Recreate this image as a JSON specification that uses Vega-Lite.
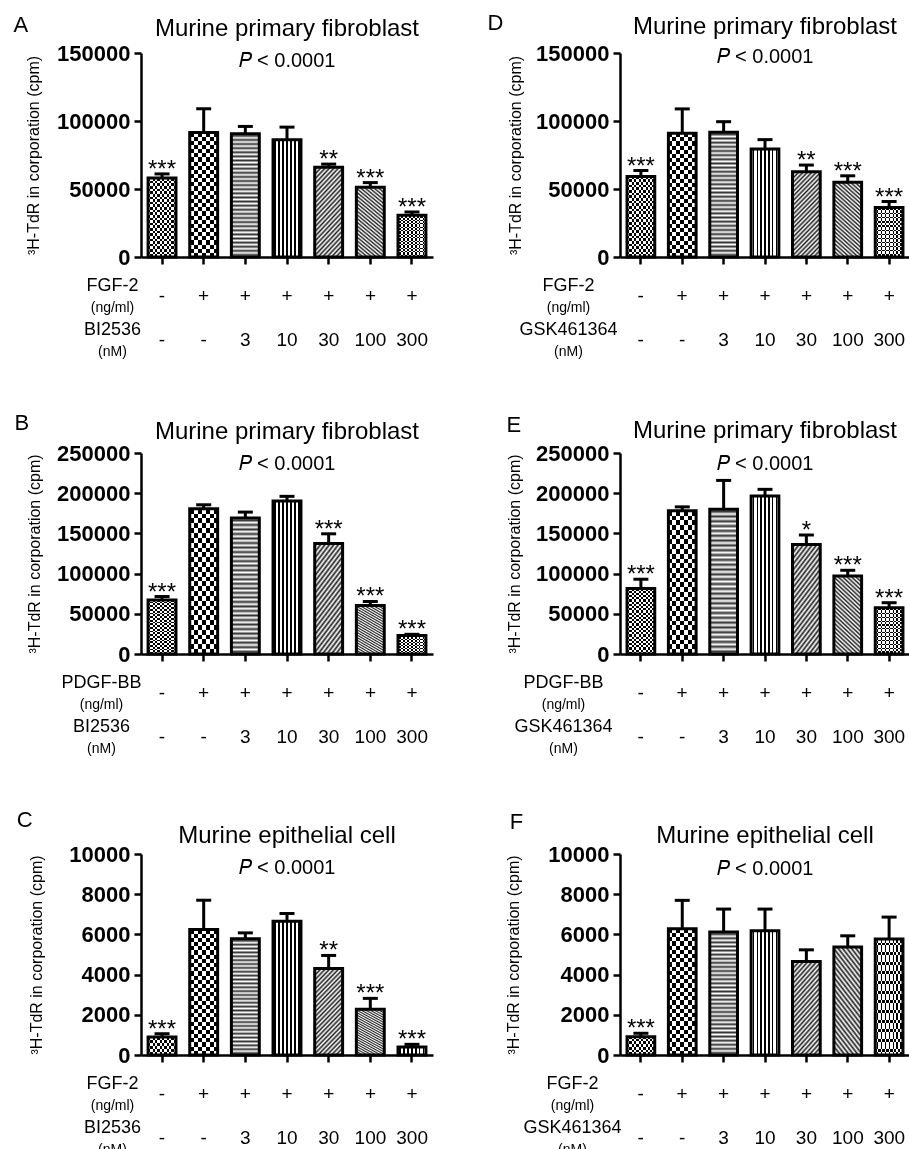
{
"$schema": "https://vega.github.io/schema/vega-lite/v6.json",
"background": "white",
"padding": {"left": 13, "top": 12, "right": 0, "bottom": 0},
"datasets": {
"bars": [
{"panel":"A","group":1,"mean":58000,"hi":61100,"sig":"***"},
{"panel":"A","group":2,"mean":91500,"hi":109000,"sig":""},
{"panel":"A","group":3,"mean":90600,"hi":96000,"sig":""},
{"panel":"A","group":4,"mean":86200,"hi":95500,"sig":""},
{"panel":"A","group":5,"mean":66000,"hi":68300,"sig":"**"},
{"panel":"A","group":6,"mean":51300,"hi":54700,"sig":"***"},
{"panel":"A","group":7,"mean":30700,"hi":33100,"sig":"***"},
{"panel":"B","group":1,"mean":67300,"hi":71500,"sig":"***"},
{"panel":"B","group":2,"mean":180600,"hi":185600,"sig":""},
{"panel":"B","group":3,"mean":169000,"hi":176500,"sig":""},
{"panel":"B","group":4,"mean":190200,"hi":196100,"sig":""},
{"panel":"B","group":5,"mean":137500,"hi":149500,"sig":"***"},
{"panel":"B","group":6,"mean":60300,"hi":65300,"sig":"***"},
{"panel":"B","group":7,"mean":22900,"hi":24500,"sig":"***"},
{"panel":"C","group":1,"mean":894,"hi":1058,"sig":"***"},
{"panel":"C","group":2,"mean":6245,"hi":7700,"sig":""},
{"panel":"C","group":3,"mean":5778,"hi":6076,"sig":""},
{"panel":"C","group":4,"mean":6657,"hi":7040,"sig":""},
{"panel":"C","group":5,"mean":4307,"hi":4953,"sig":"**"},
{"panel":"C","group":6,"mean":2270,"hi":2817,"sig":"***"},
{"panel":"C","group":7,"mean":397,"hi":530,"sig":"***"},
{"panel":"D","group":1,"mean":59200,"hi":63600,"sig":"***"},
{"panel":"D","group":2,"mean":91000,"hi":108900,"sig":""},
{"panel":"D","group":3,"mean":91700,"hi":99500,"sig":""},
{"panel":"D","group":4,"mean":79400,"hi":86300,"sig":""},
{"panel":"D","group":5,"mean":62700,"hi":67600,"sig":"**"},
{"panel":"D","group":6,"mean":54900,"hi":59700,"sig":"***"},
{"panel":"D","group":7,"mean":36400,"hi":40800,"sig":"***"},
{"panel":"E","group":1,"mean":81400,"hi":93000,"sig":"***"},
{"panel":"E","group":2,"mean":178100,"hi":183000,"sig":""},
{"panel":"E","group":3,"mean":180100,"hi":215900,"sig":""},
{"panel":"E","group":4,"mean":196600,"hi":204800,"sig":""},
{"panel":"E","group":5,"mean":136200,"hi":148000,"sig":"*"},
{"panel":"E","group":6,"mean":97100,"hi":104100,"sig":"***"},
{"panel":"E","group":7,"mean":57600,"hi":63800,"sig":"***"},
{"panel":"F","group":1,"mean":914,"hi":1081,"sig":"***"},
{"panel":"F","group":2,"mean":6279,"hi":7694,"sig":""},
{"panel":"F","group":3,"mean":6114,"hi":7260,"sig":""},
{"panel":"F","group":4,"mean":6180,"hi":7260,"sig":""},
{"panel":"F","group":5,"mean":4654,"hi":5232,"sig":""},
{"panel":"F","group":6,"mean":5367,"hi":5930,"sig":""},
{"panel":"F","group":7,"mean":5765,"hi":6861,"sig":""}
],
"table": [
{"group":1,"row":"agent","txt":"-"},{"group":2,"row":"agent","txt":"+"},{"group":3,"row":"agent","txt":"+"},{"group":4,"row":"agent","txt":"+"},{"group":5,"row":"agent","txt":"+"},{"group":6,"row":"agent","txt":"+"},{"group":7,"row":"agent","txt":"+"},
{"group":1,"row":"dose","txt":"-"},{"group":2,"row":"dose","txt":"-"},{"group":3,"row":"dose","txt":"3"},{"group":4,"row":"dose","txt":"10"},{"group":5,"row":"dose","txt":"30"},{"group":6,"row":"dose","txt":"100"},{"group":7,"row":"dose","txt":"300"}
]
},
"columns": 2,
"spacing": {"row": 54, "column": 54},
"concat": [
{
"title": {"text": "A", "anchor": "start", "frame": "bounds", "offset": -20, "dx": -12, "fontSize": 22},
"spacing": 8,
"vconcat": [
{
"width": 292, "height": 204,
"title": {"text": "Murine primary fibroblast", "subtitle": "𝑃 < 0.0001", "anchor": "middle", "frame": "group", "offset": -29, "fontSize": 24, "subtitleFontSize": 20, "subtitlePadding": 10},
"data": {"name": "bars"},
"transform": [{"filter": "datum.panel == 'A'"}],
"encoding": {
"x": {"field": "group", "type": "nominal", "scale": {"paddingInner": 0.33, "paddingOuter": 0.17}, "axis": {"labels": false, "title": null}},
"y": {"field": "mean", "type": "quantitative", "stack": null, "scale": {"domain": [0, 150000], "nice": false}, "axis": {"title": "³H-TdR in corporation (cpm)", "values": [0, 50000, 100000, 150000], "format": "d", "titlePadding": 15}}
},
"layer": [
{"transform": [{"filter": "datum.group == 1"}], "mark": {"type": "bar", "style": "g1", "opacity": 1}},
{"transform": [{"filter": "datum.group == 2"}], "mark": {"type": "bar", "style": "g2", "opacity": 1}},
{"transform": [{"filter": "datum.group == 3"}], "mark": {"type": "bar", "style": "g3", "opacity": 1}},
{"transform": [{"filter": "datum.group == 4 || datum.group == 7"}], "mark": {"type": "bar", "style": "g4", "opacity": 1}},
{"transform": [{"filter": "datum.group == 5"}], "mark": {"type": "bar", "style": "g5", "opacity": 1}},
{"transform": [{"filter": "datum.group == 6"}], "mark": {"type": "bar", "style": "g6", "opacity": 1}},
{"transform": [{"filter": "datum.group <= 2"}], "mark": {"type": "bar", "style": "o1", "opacity": 1, "blend": "difference"}},
{"transform": [{"filter": "datum.group == 7"}], "mark": {"type": "bar", "style": "o7", "opacity": 1, "blend": "difference"}},
{"mark": {"type": "bar", "opacity": 1, "fill": "transparent", "stroke": "black", "strokeWidth": 3}},
{"mark": {"type": "rule", "opacity": 1, "color": "black", "strokeWidth": 3}, "encoding": {"y2": {"field": "hi"}}},
{"mark": {"type": "tick", "opacity": 1, "orient": "horizontal", "color": "black", "size": 15, "thickness": 3}, "encoding": {"y": {"field": "hi", "type": "quantitative"}}},
{"mark": {"type": "text", "fontSize": 24, "baseline": "alphabetic", "dy": 3, "color": "black"}, "encoding": {"y": {"field": "hi", "type": "quantitative"}, "text": {"field": "sig"}}}
]
},
{
"width": 292, "height": 66,
"data": {"name": "table"},
"mark": {"type": "text", "fontSize": 19, "color": "black"},
"encoding": {
"x": {"field": "group", "type": "nominal", "scale": {"paddingInner": 0.33, "paddingOuter": 0.17}, "axis": null},
"y": {"field": "row", "type": "nominal", "scale": {"type": "point", "domain": ["n1","agent","u1","gap","n2","dose","u2"], "padding": 0}, "axis": {"title": null, "domain": false, "ticks": false, "labelAlign": "center", "labelBaseline": "middle", "labelPadding": 29, "labelFontWeight": "normal", "labelFontSize": {"condition": {"test": "datum.value == 'u1' || datum.value == 'u2'", "value": 14}, "value": 18}, "labelExpr": "datum.value == 'n1' ? 'FGF-2' : datum.value == 'u1' ? '(ng/ml)' : datum.value == 'n2' ? 'BI2536' : datum.value == 'u2' ? '(nM)' : ''"}},
"text": {"field": "txt"}
}
}
]
},
{
"title": {"text": "D", "anchor": "start", "frame": "bounds", "offset": -20, "dx": -20, "fontSize": 22},
"spacing": 8,
"vconcat": [
{
"width": 290, "height": 204,
"title": {"text": "Murine primary fibroblast", "subtitle": "𝑃 < 0.0001", "anchor": "middle", "frame": "group", "offset": -25, "fontSize": 24, "subtitleFontSize": 20, "subtitlePadding": 8},
"data": {"name": "bars"},
"transform": [{"filter": "datum.panel == 'D'"}],
"encoding": {
"x": {"field": "group", "type": "nominal", "scale": {"paddingInner": 0.33, "paddingOuter": 0.17}, "axis": {"labels": false, "title": null}},
"y": {"field": "mean", "type": "quantitative", "stack": null, "scale": {"domain": [0, 150000], "nice": false}, "axis": {"title": "³H-TdR in corporation (cpm)", "values": [0, 50000, 100000, 150000], "format": "d", "titlePadding": 12}}
},
"layer": [
{"transform": [{"filter": "datum.group == 1"}], "mark": {"type": "bar", "style": "g1", "opacity": 1}},
{"transform": [{"filter": "datum.group == 2"}], "mark": {"type": "bar", "style": "g2", "opacity": 1}},
{"transform": [{"filter": "datum.group == 3"}], "mark": {"type": "bar", "style": "g3", "opacity": 1}},
{"transform": [{"filter": "datum.group == 4 || datum.group == 7"}], "mark": {"type": "bar", "style": "g4", "opacity": 1}},
{"transform": [{"filter": "datum.group == 5"}], "mark": {"type": "bar", "style": "g5", "opacity": 1}},
{"transform": [{"filter": "datum.group == 6"}], "mark": {"type": "bar", "style": "g6", "opacity": 1}},
{"transform": [{"filter": "datum.group <= 2"}], "mark": {"type": "bar", "style": "o1", "opacity": 1, "blend": "difference"}},
{"transform": [{"filter": "datum.group == 7"}], "mark": {"type": "bar", "style": "o7", "opacity": 1, "blend": "difference"}},
{"mark": {"type": "bar", "opacity": 1, "fill": "transparent", "stroke": "black", "strokeWidth": 3}},
{"mark": {"type": "rule", "opacity": 1, "color": "black", "strokeWidth": 3}, "encoding": {"y2": {"field": "hi"}}},
{"mark": {"type": "tick", "opacity": 1, "orient": "horizontal", "color": "black", "size": 15, "thickness": 3}, "encoding": {"y": {"field": "hi", "type": "quantitative"}}},
{"mark": {"type": "text", "fontSize": 24, "baseline": "alphabetic", "dy": 3, "color": "black"}, "encoding": {"y": {"field": "hi", "type": "quantitative"}, "text": {"field": "sig"}}}
]
},
{
"width": 290, "height": 66,
"data": {"name": "table"},
"mark": {"type": "text", "fontSize": 19, "color": "black"},
"encoding": {
"x": {"field": "group", "type": "nominal", "scale": {"paddingInner": 0.33, "paddingOuter": 0.17}, "axis": null},
"y": {"field": "row", "type": "nominal", "scale": {"type": "point", "domain": ["n1","agent","u1","gap","n2","dose","u2"], "padding": 0}, "axis": {"title": null, "domain": false, "ticks": false, "labelAlign": "center", "labelBaseline": "middle", "labelPadding": 52, "labelFontWeight": "normal", "labelFontSize": {"condition": {"test": "datum.value == 'u1' || datum.value == 'u2'", "value": 14}, "value": 18}, "labelExpr": "datum.value == 'n1' ? 'FGF-2' : datum.value == 'u1' ? '(ng/ml)' : datum.value == 'n2' ? 'GSK461364' : datum.value == 'u2' ? '(nM)' : ''"}},
"text": {"field": "txt"}
}
}
]
},
{
"title": {"text": "B", "anchor": "start", "frame": "bounds", "offset": -15, "dx": -12, "fontSize": 22},
"spacing": 8,
"vconcat": [
{
"width": 292, "height": 201,
"title": {"text": "Murine primary fibroblast", "subtitle": "𝑃 < 0.0001", "anchor": "middle", "frame": "group", "offset": -32, "fontSize": 24, "subtitleFontSize": 20, "subtitlePadding": 10},
"data": {"name": "bars"},
"transform": [{"filter": "datum.panel == 'B'"}],
"encoding": {
"x": {"field": "group", "type": "nominal", "scale": {"paddingInner": 0.33, "paddingOuter": 0.17}, "axis": {"labels": false, "title": null}},
"y": {"field": "mean", "type": "quantitative", "stack": null, "scale": {"domain": [0, 250000], "nice": false}, "axis": {"title": "³H-TdR in corporation (cpm)", "values": [0, 50000, 100000, 150000, 200000, 250000], "format": "d", "titlePadding": 14}}
},
"layer": [
{"transform": [{"filter": "datum.group == 1"}], "mark": {"type": "bar", "style": "g1", "opacity": 1}},
{"transform": [{"filter": "datum.group == 2"}], "mark": {"type": "bar", "style": "g2", "opacity": 1}},
{"transform": [{"filter": "datum.group == 3"}], "mark": {"type": "bar", "style": "g3", "opacity": 1}},
{"transform": [{"filter": "datum.group == 4 || datum.group == 7"}], "mark": {"type": "bar", "style": "g4", "opacity": 1}},
{"transform": [{"filter": "datum.group == 5"}], "mark": {"type": "bar", "style": "g5", "opacity": 1}},
{"transform": [{"filter": "datum.group == 6"}], "mark": {"type": "bar", "style": "g6", "opacity": 1}},
{"transform": [{"filter": "datum.group <= 2"}], "mark": {"type": "bar", "style": "o1", "opacity": 1, "blend": "difference"}},
{"transform": [{"filter": "datum.group == 7"}], "mark": {"type": "bar", "style": "o7", "opacity": 1, "blend": "difference"}},
{"mark": {"type": "bar", "opacity": 1, "fill": "transparent", "stroke": "black", "strokeWidth": 3}},
{"mark": {"type": "rule", "opacity": 1, "color": "black", "strokeWidth": 3}, "encoding": {"y2": {"field": "hi"}}},
{"mark": {"type": "tick", "opacity": 1, "orient": "horizontal", "color": "black", "size": 15, "thickness": 3}, "encoding": {"y": {"field": "hi", "type": "quantitative"}}},
{"mark": {"type": "text", "fontSize": 24, "baseline": "alphabetic", "dy": 3, "color": "black"}, "encoding": {"y": {"field": "hi", "type": "quantitative"}, "text": {"field": "sig"}}}
]
},
{
"width": 292, "height": 66,
"data": {"name": "table"},
"mark": {"type": "text", "fontSize": 19, "color": "black"},
"encoding": {
"x": {"field": "group", "type": "nominal", "scale": {"paddingInner": 0.33, "paddingOuter": 0.17}, "axis": null},
"y": {"field": "row", "type": "nominal", "scale": {"type": "point", "domain": ["n1","agent","u1","gap","n2","dose","u2"], "padding": 0}, "axis": {"title": null, "domain": false, "ticks": false, "labelAlign": "center", "labelBaseline": "middle", "labelPadding": 40, "labelFontWeight": "normal", "labelFontSize": {"condition": {"test": "datum.value == 'u1' || datum.value == 'u2'", "value": 14}, "value": 18}, "labelExpr": "datum.value == 'n1' ? 'PDGF-BB' : datum.value == 'u1' ? '(ng/ml)' : datum.value == 'n2' ? 'BI2536' : datum.value == 'u2' ? '(nM)' : ''"}},
"text": {"field": "txt"}
}
}
]
},
{
"title": {"text": "E", "anchor": "start", "frame": "bounds", "offset": -18, "dx": 0, "fontSize": 22},
"spacing": 8,
"vconcat": [
{
"width": 290, "height": 201,
"title": {"text": "Murine primary fibroblast", "subtitle": "𝑃 < 0.0001", "anchor": "middle", "frame": "group", "offset": -32, "fontSize": 24, "subtitleFontSize": 20, "subtitlePadding": 11},
"data": {"name": "bars"},
"transform": [{"filter": "datum.panel == 'E'"}],
"encoding": {
"x": {"field": "group", "type": "nominal", "scale": {"paddingInner": 0.33, "paddingOuter": 0.17}, "axis": {"labels": false, "title": null}},
"y": {"field": "mean", "type": "quantitative", "stack": null, "scale": {"domain": [0, 250000], "nice": false}, "axis": {"title": "³H-TdR in corporation (cpm)", "values": [0, 50000, 100000, 150000, 200000, 250000], "format": "d", "titlePadding": 13}}
},
"layer": [
{"transform": [{"filter": "datum.group == 1"}], "mark": {"type": "bar", "style": "g1", "opacity": 1}},
{"transform": [{"filter": "datum.group == 2"}], "mark": {"type": "bar", "style": "g2", "opacity": 1}},
{"transform": [{"filter": "datum.group == 3"}], "mark": {"type": "bar", "style": "g3", "opacity": 1}},
{"transform": [{"filter": "datum.group == 4 || datum.group == 7"}], "mark": {"type": "bar", "style": "g4", "opacity": 1}},
{"transform": [{"filter": "datum.group == 5"}], "mark": {"type": "bar", "style": "g5", "opacity": 1}},
{"transform": [{"filter": "datum.group == 6"}], "mark": {"type": "bar", "style": "g6", "opacity": 1}},
{"transform": [{"filter": "datum.group <= 2"}], "mark": {"type": "bar", "style": "o1", "opacity": 1, "blend": "difference"}},
{"transform": [{"filter": "datum.group == 7"}], "mark": {"type": "bar", "style": "o7", "opacity": 1, "blend": "difference"}},
{"mark": {"type": "bar", "opacity": 1, "fill": "transparent", "stroke": "black", "strokeWidth": 3}},
{"mark": {"type": "rule", "opacity": 1, "color": "black", "strokeWidth": 3}, "encoding": {"y2": {"field": "hi"}}},
{"mark": {"type": "tick", "opacity": 1, "orient": "horizontal", "color": "black", "size": 15, "thickness": 3}, "encoding": {"y": {"field": "hi", "type": "quantitative"}}},
{"mark": {"type": "text", "fontSize": 24, "baseline": "alphabetic", "dy": 3, "color": "black"}, "encoding": {"y": {"field": "hi", "type": "quantitative"}, "text": {"field": "sig"}}}
]
},
{
"width": 290, "height": 66,
"data": {"name": "table"},
"mark": {"type": "text", "fontSize": 19, "color": "black"},
"encoding": {
"x": {"field": "group", "type": "nominal", "scale": {"paddingInner": 0.33, "paddingOuter": 0.17}, "axis": null},
"y": {"field": "row", "type": "nominal", "scale": {"type": "point", "domain": ["n1","agent","u1","gap","n2","dose","u2"], "padding": 0}, "axis": {"title": null, "domain": false, "ticks": false, "labelAlign": "center", "labelBaseline": "middle", "labelPadding": 57, "labelFontWeight": "normal", "labelFontSize": {"condition": {"test": "datum.value == 'u1' || datum.value == 'u2'", "value": 14}, "value": 18}, "labelExpr": "datum.value == 'n1' ? 'PDGF-BB' : datum.value == 'u1' ? '(ng/ml)' : datum.value == 'n2' ? 'GSK461364' : datum.value == 'u2' ? '(nM)' : ''"}},
"text": {"field": "txt"}
}
}
]
},
{
"title": {"text": "C", "anchor": "start", "frame": "bounds", "offset": -8, "dx": -12, "fontSize": 22},
"spacing": 8,
"vconcat": [
{
"width": 292, "height": 201,
"title": {"text": "Murine epithelial cell", "subtitle": "𝑃 < 0.0001", "anchor": "middle", "frame": "group", "offset": -35, "fontSize": 24, "subtitleFontSize": 20, "subtitlePadding": 10},
"data": {"name": "bars"},
"transform": [{"filter": "datum.panel == 'C'"}],
"encoding": {
"x": {"field": "group", "type": "nominal", "scale": {"paddingInner": 0.33, "paddingOuter": 0.17}, "axis": {"labels": false, "title": null}},
"y": {"field": "mean", "type": "quantitative", "stack": null, "scale": {"domain": [0, 10000], "nice": false}, "axis": {"title": "³H-TdR in corporation (cpm)", "values": [0, 2000, 4000, 6000, 8000, 10000], "format": "d", "titlePadding": 24}}
},
"layer": [
{"transform": [{"filter": "datum.group == 1"}], "mark": {"type": "bar", "style": "g1", "opacity": 1}},
{"transform": [{"filter": "datum.group == 2"}], "mark": {"type": "bar", "style": "g2", "opacity": 1}},
{"transform": [{"filter": "datum.group == 3"}], "mark": {"type": "bar", "style": "g3", "opacity": 1}},
{"transform": [{"filter": "datum.group == 4 || datum.group == 7"}], "mark": {"type": "bar", "style": "g4", "opacity": 1}},
{"transform": [{"filter": "datum.group == 5"}], "mark": {"type": "bar", "style": "g5", "opacity": 1}},
{"transform": [{"filter": "datum.group == 6"}], "mark": {"type": "bar", "style": "g6", "opacity": 1}},
{"transform": [{"filter": "datum.group <= 2"}], "mark": {"type": "bar", "style": "o1", "opacity": 1, "blend": "difference"}},
{"transform": [{"filter": "datum.group == 7"}], "mark": {"type": "bar", "style": "o7", "opacity": 1, "blend": "difference"}},
{"mark": {"type": "bar", "opacity": 1, "fill": "transparent", "stroke": "black", "strokeWidth": 3}},
{"mark": {"type": "rule", "opacity": 1, "color": "black", "strokeWidth": 3}, "encoding": {"y2": {"field": "hi"}}},
{"mark": {"type": "tick", "opacity": 1, "orient": "horizontal", "color": "black", "size": 15, "thickness": 3}, "encoding": {"y": {"field": "hi", "type": "quantitative"}}},
{"mark": {"type": "text", "fontSize": 24, "baseline": "alphabetic", "dy": 3, "color": "black"}, "encoding": {"y": {"field": "hi", "type": "quantitative"}, "text": {"field": "sig"}}}
]
},
{
"width": 292, "height": 66,
"data": {"name": "table"},
"mark": {"type": "text", "fontSize": 19, "color": "black"},
"encoding": {
"x": {"field": "group", "type": "nominal", "scale": {"paddingInner": 0.33, "paddingOuter": 0.17}, "axis": null},
"y": {"field": "row", "type": "nominal", "scale": {"type": "point", "domain": ["n1","agent","u1","gap","n2","dose","u2"], "padding": 0}, "axis": {"title": null, "domain": false, "ticks": false, "labelAlign": "center", "labelBaseline": "middle", "labelPadding": 29, "labelFontWeight": "normal", "labelFontSize": {"condition": {"test": "datum.value == 'u1' || datum.value == 'u2'", "value": 14}, "value": 18}, "labelExpr": "datum.value == 'n1' ? 'FGF-2' : datum.value == 'u1' ? '(ng/ml)' : datum.value == 'n2' ? 'BI2536' : datum.value == 'u2' ? '(nM)' : ''"}},
"text": {"field": "txt"}
}
}
]
},
{
"title": {"text": "F", "anchor": "start", "frame": "bounds", "offset": -10, "dx": 4, "fontSize": 22},
"spacing": 8,
"vconcat": [
{
"width": 290, "height": 201,
"title": {"text": "Murine epithelial cell", "subtitle": "𝑃 < 0.0001", "anchor": "middle", "frame": "group", "offset": -36, "fontSize": 24, "subtitleFontSize": 20, "subtitlePadding": 11},
"data": {"name": "bars"},
"transform": [{"filter": "datum.panel == 'F'"}],
"encoding": {
"x": {"field": "group", "type": "nominal", "scale": {"paddingInner": 0.33, "paddingOuter": 0.17}, "axis": {"labels": false, "title": null}},
"y": {"field": "mean", "type": "quantitative", "stack": null, "scale": {"domain": [0, 10000], "nice": false}, "axis": {"title": "³H-TdR in corporation (cpm)", "values": [0, 2000, 4000, 6000, 8000, 10000], "format": "d", "titlePadding": 26}}
},
"layer": [
{"transform": [{"filter": "datum.group == 1"}], "mark": {"type": "bar", "style": "g1", "opacity": 1}},
{"transform": [{"filter": "datum.group == 2"}], "mark": {"type": "bar", "style": "g2", "opacity": 1}},
{"transform": [{"filter": "datum.group == 3"}], "mark": {"type": "bar", "style": "g3", "opacity": 1}},
{"transform": [{"filter": "datum.group == 4 || datum.group == 7"}], "mark": {"type": "bar", "style": "g4", "opacity": 1}},
{"transform": [{"filter": "datum.group == 5"}], "mark": {"type": "bar", "style": "g5", "opacity": 1}},
{"transform": [{"filter": "datum.group == 6"}], "mark": {"type": "bar", "style": "g6", "opacity": 1}},
{"transform": [{"filter": "datum.group <= 2"}], "mark": {"type": "bar", "style": "o1", "opacity": 1, "blend": "difference"}},
{"transform": [{"filter": "datum.group == 7"}], "mark": {"type": "bar", "style": "o7", "opacity": 1, "blend": "difference"}},
{"mark": {"type": "bar", "opacity": 1, "fill": "transparent", "stroke": "black", "strokeWidth": 3}},
{"mark": {"type": "rule", "opacity": 1, "color": "black", "strokeWidth": 3}, "encoding": {"y2": {"field": "hi"}}},
{"mark": {"type": "tick", "opacity": 1, "orient": "horizontal", "color": "black", "size": 15, "thickness": 3}, "encoding": {"y": {"field": "hi", "type": "quantitative"}}},
{"mark": {"type": "text", "fontSize": 24, "baseline": "alphabetic", "dy": 3, "color": "black"}, "encoding": {"y": {"field": "hi", "type": "quantitative"}, "text": {"field": "sig"}}}
]
},
{
"width": 290, "height": 66,
"data": {"name": "table"},
"mark": {"type": "text", "fontSize": 19, "color": "black"},
"encoding": {
"x": {"field": "group", "type": "nominal", "scale": {"paddingInner": 0.33, "paddingOuter": 0.17}, "axis": null},
"y": {"field": "row", "type": "nominal", "scale": {"type": "point", "domain": ["n1","agent","u1","gap","n2","dose","u2"], "padding": 0}, "axis": {"title": null, "domain": false, "ticks": false, "labelAlign": "center", "labelBaseline": "middle", "labelPadding": 48, "labelFontWeight": "normal", "labelFontSize": {"condition": {"test": "datum.value == 'u1' || datum.value == 'u2'", "value": 14}, "value": 18}, "labelExpr": "datum.value == 'n1' ? 'FGF-2' : datum.value == 'u1' ? '(ng/ml)' : datum.value == 'n2' ? 'GSK461364' : datum.value == 'u2' ? '(nM)' : ''"}},
"text": {"field": "txt"}
}
}
]
}
],
"config": {
"font": "Liberation Sans",
"view": {"stroke": null},
"axis": {"domainColor": "black", "domainWidth": 2.5, "tickColor": "black", "tickWidth": 2.5, "tickSize": 7, "labelColor": "black", "labelFont": "Liberation Sans", "titleFont": "Liberation Sans", "titleColor": "black", "titleFontWeight": "normal", "grid": false},
"axisY": {"labelFontSize": 22, "labelFontWeight": "bold", "labelPadding": 4, "titleFontSize": 16},
"title": {"font": "Liberation Sans", "fontWeight": "normal", "color": "black", "subtitleFont": "Liberation Sans", "subtitleColor": "black"},
"text": {"font": "Liberation Sans"},
"style": {
"g1": {"color": {"gradient":"linear","x1":0,"y1":0,"x2":1,"y2":0,"stops":[{"offset":0,"color":"#000"},{"offset":0.0833,"color":"#000"},{"offset":0.0833,"color":"#fff"},{"offset":0.1667,"color":"#fff"},{"offset":0.1667,"color":"#000"},{"offset":0.25,"color":"#000"},{"offset":0.25,"color":"#fff"},{"offset":0.3333,"color":"#fff"},{"offset":0.3333,"color":"#000"},{"offset":0.4167,"color":"#000"},{"offset":0.4167,"color":"#fff"},{"offset":0.5,"color":"#fff"},{"offset":0.5,"color":"#000"},{"offset":0.5833,"color":"#000"},{"offset":0.5833,"color":"#fff"},{"offset":0.6667,"color":"#fff"},{"offset":0.6667,"color":"#000"},{"offset":0.75,"color":"#000"},{"offset":0.75,"color":"#fff"},{"offset":0.8333,"color":"#fff"},{"offset":0.8333,"color":"#000"},{"offset":0.9167,"color":"#000"},{"offset":0.9167,"color":"#fff"},{"offset":1,"color":"#fff"}]}},
"g2": {"color": {"gradient":"linear","x1":0,"y1":0,"x2":1,"y2":0,"stops":[{"offset":0,"color":"#000"},{"offset":0.1429,"color":"#000"},{"offset":0.1429,"color":"#fff"},{"offset":0.2857,"color":"#fff"},{"offset":0.2857,"color":"#000"},{"offset":0.4286,"color":"#000"},{"offset":0.4286,"color":"#fff"},{"offset":0.5714,"color":"#fff"},{"offset":0.5714,"color":"#000"},{"offset":0.7143,"color":"#000"},{"offset":0.7143,"color":"#fff"},{"offset":0.8571,"color":"#fff"},{"offset":0.8571,"color":"#000"},{"offset":1,"color":"#000"}]}},
"g3": {"color": {"gradient":"linear","x1":0,"y1":0,"x2":0,"y2":1,"stops":[{"offset":0,"color":"#fff"},{"offset":0.0167,"color":"#333"},{"offset":0.0333,"color":"#fff"},{"offset":0.05,"color":"#333"},{"offset":0.0667,"color":"#fff"},{"offset":0.0833,"color":"#333"},{"offset":0.1,"color":"#fff"},{"offset":0.1167,"color":"#333"},{"offset":0.1333,"color":"#fff"},{"offset":0.15,"color":"#333"},{"offset":0.1667,"color":"#fff"},{"offset":0.1833,"color":"#333"},{"offset":0.2,"color":"#fff"},{"offset":0.2167,"color":"#333"},{"offset":0.2333,"color":"#fff"},{"offset":0.25,"color":"#333"},{"offset":0.2667,"color":"#fff"},{"offset":0.2833,"color":"#333"},{"offset":0.3,"color":"#fff"},{"offset":0.3167,"color":"#333"},{"offset":0.3333,"color":"#fff"},{"offset":0.35,"color":"#333"},{"offset":0.3667,"color":"#fff"},{"offset":0.3833,"color":"#333"},{"offset":0.4,"color":"#fff"},{"offset":0.4167,"color":"#333"},{"offset":0.4333,"color":"#fff"},{"offset":0.45,"color":"#333"},{"offset":0.4667,"color":"#fff"},{"offset":0.4833,"color":"#333"},{"offset":0.5,"color":"#fff"},{"offset":0.5167,"color":"#333"},{"offset":0.5333,"color":"#fff"},{"offset":0.55,"color":"#333"},{"offset":0.5667,"color":"#fff"},{"offset":0.5833,"color":"#333"},{"offset":0.6,"color":"#fff"},{"offset":0.6167,"color":"#333"},{"offset":0.6333,"color":"#fff"},{"offset":0.65,"color":"#333"},{"offset":0.6667,"color":"#fff"},{"offset":0.6833,"color":"#333"},{"offset":0.7,"color":"#fff"},{"offset":0.7167,"color":"#333"},{"offset":0.7333,"color":"#fff"},{"offset":0.75,"color":"#333"},{"offset":0.7667,"color":"#fff"},{"offset":0.7833,"color":"#333"},{"offset":0.8,"color":"#fff"},{"offset":0.8167,"color":"#333"},{"offset":0.8333,"color":"#fff"},{"offset":0.85,"color":"#333"},{"offset":0.8667,"color":"#fff"},{"offset":0.8833,"color":"#333"},{"offset":0.9,"color":"#fff"},{"offset":0.9167,"color":"#333"},{"offset":0.9333,"color":"#fff"},{"offset":0.95,"color":"#333"},{"offset":0.9667,"color":"#fff"},{"offset":0.9833,"color":"#333"},{"offset":1,"color":"#fff"}]}},
"g4": {"color": {"gradient":"linear","x1":0,"y1":0,"x2":1,"y2":0,"stops":[{"offset":0,"color":"#fff"},{"offset":0.0514,"color":"#fff"},{"offset":0.0514,"color":"#000"},{"offset":0.0914,"color":"#000"},{"offset":0.0914,"color":"#fff"},{"offset":0.1943,"color":"#fff"},{"offset":0.1943,"color":"#000"},{"offset":0.2343,"color":"#000"},{"offset":0.2343,"color":"#fff"},{"offset":0.3371,"color":"#fff"},{"offset":0.3371,"color":"#000"},{"offset":0.3771,"color":"#000"},{"offset":0.3771,"color":"#fff"},{"offset":0.48,"color":"#fff"},{"offset":0.48,"color":"#000"},{"offset":0.52,"color":"#000"},{"offset":0.52,"color":"#fff"},{"offset":0.6229,"color":"#fff"},{"offset":0.6229,"color":"#000"},{"offset":0.6629,"color":"#000"},{"offset":0.6629,"color":"#fff"},{"offset":0.7657,"color":"#fff"},{"offset":0.7657,"color":"#000"},{"offset":0.8057,"color":"#000"},{"offset":0.8057,"color":"#fff"},{"offset":0.9086,"color":"#fff"},{"offset":0.9086,"color":"#000"},{"offset":0.9486,"color":"#000"},{"offset":0.9486,"color":"#fff"},{"offset":1,"color":"#fff"}]}},
"g5": {"color": {"gradient":"linear","x1":0,"y1":0,"x2":1,"y2":3,"stops":[{"offset":0,"color":"#fff"},{"offset":0.008,"color":"#222"},{"offset":0.016,"color":"#fff"},{"offset":0.024,"color":"#222"},{"offset":0.032,"color":"#fff"},{"offset":0.04,"color":"#222"},{"offset":0.048,"color":"#fff"},{"offset":0.056,"color":"#222"},{"offset":0.064,"color":"#fff"},{"offset":0.072,"color":"#222"},{"offset":0.08,"color":"#fff"},{"offset":0.088,"color":"#222"},{"offset":0.096,"color":"#fff"},{"offset":0.104,"color":"#222"},{"offset":0.112,"color":"#fff"},{"offset":0.12,"color":"#222"},{"offset":0.128,"color":"#fff"},{"offset":0.136,"color":"#222"},{"offset":0.144,"color":"#fff"},{"offset":0.152,"color":"#222"},{"offset":0.16,"color":"#fff"},{"offset":0.168,"color":"#222"},{"offset":0.176,"color":"#fff"},{"offset":0.184,"color":"#222"},{"offset":0.192,"color":"#fff"},{"offset":0.2,"color":"#222"},{"offset":0.208,"color":"#fff"},{"offset":0.216,"color":"#222"},{"offset":0.224,"color":"#fff"},{"offset":0.232,"color":"#222"},{"offset":0.24,"color":"#fff"},{"offset":0.248,"color":"#222"},{"offset":0.256,"color":"#fff"},{"offset":0.264,"color":"#222"},{"offset":0.272,"color":"#fff"},{"offset":0.28,"color":"#222"},{"offset":0.288,"color":"#fff"},{"offset":0.296,"color":"#222"},{"offset":0.304,"color":"#fff"},{"offset":0.312,"color":"#222"},{"offset":0.32,"color":"#fff"},{"offset":0.328,"color":"#222"},{"offset":0.336,"color":"#fff"},{"offset":0.344,"color":"#222"},{"offset":0.352,"color":"#fff"},{"offset":0.36,"color":"#222"},{"offset":0.368,"color":"#fff"},{"offset":0.376,"color":"#222"},{"offset":0.384,"color":"#fff"},{"offset":0.392,"color":"#222"},{"offset":0.4,"color":"#fff"},{"offset":0.408,"color":"#222"},{"offset":0.416,"color":"#fff"},{"offset":1,"color":"#fff"}]}},
"g6": {"color": {"gradient":"linear","x1":1,"y1":0,"x2":0,"y2":3,"stops":[{"offset":0,"color":"#fff"},{"offset":0.008,"color":"#222"},{"offset":0.016,"color":"#fff"},{"offset":0.024,"color":"#222"},{"offset":0.032,"color":"#fff"},{"offset":0.04,"color":"#222"},{"offset":0.048,"color":"#fff"},{"offset":0.056,"color":"#222"},{"offset":0.064,"color":"#fff"},{"offset":0.072,"color":"#222"},{"offset":0.08,"color":"#fff"},{"offset":0.088,"color":"#222"},{"offset":0.096,"color":"#fff"},{"offset":0.104,"color":"#222"},{"offset":0.112,"color":"#fff"},{"offset":0.12,"color":"#222"},{"offset":0.128,"color":"#fff"},{"offset":0.136,"color":"#222"},{"offset":0.144,"color":"#fff"},{"offset":0.152,"color":"#222"},{"offset":0.16,"color":"#fff"},{"offset":0.168,"color":"#222"},{"offset":0.176,"color":"#fff"},{"offset":0.184,"color":"#222"},{"offset":0.192,"color":"#fff"},{"offset":0.2,"color":"#222"},{"offset":0.208,"color":"#fff"},{"offset":0.216,"color":"#222"},{"offset":0.224,"color":"#fff"},{"offset":0.232,"color":"#222"},{"offset":0.24,"color":"#fff"},{"offset":0.248,"color":"#222"},{"offset":0.256,"color":"#fff"},{"offset":0.264,"color":"#222"},{"offset":0.272,"color":"#fff"},{"offset":0.28,"color":"#222"},{"offset":0.288,"color":"#fff"},{"offset":0.296,"color":"#222"},{"offset":0.304,"color":"#fff"},{"offset":0.312,"color":"#222"},{"offset":0.32,"color":"#fff"},{"offset":0.328,"color":"#222"},{"offset":0.336,"color":"#fff"},{"offset":0.344,"color":"#222"},{"offset":0.352,"color":"#fff"},{"offset":0.36,"color":"#222"},{"offset":0.368,"color":"#fff"},{"offset":0.376,"color":"#222"},{"offset":0.384,"color":"#fff"},{"offset":0.392,"color":"#222"},{"offset":0.4,"color":"#fff"},{"offset":0.408,"color":"#222"},{"offset":0.416,"color":"#fff"},{"offset":1,"color":"#fff"}]}},
"o1": {"color": {"gradient":"linear","x1":0,"y1":0,"x2":0,"y2":1,"stops":[{"offset":0,"color":"rgba(255,255,255,0)"},{"offset":0.0333,"color":"rgba(255,255,255,0)"},{"offset":0.0333,"color":"#fff"},{"offset":0.0667,"color":"#fff"},{"offset":0.0667,"color":"rgba(255,255,255,0)"},{"offset":0.1,"color":"rgba(255,255,255,0)"},{"offset":0.1,"color":"#fff"},{"offset":0.1333,"color":"#fff"},{"offset":0.1333,"color":"rgba(255,255,255,0)"},{"offset":0.1667,"color":"rgba(255,255,255,0)"},{"offset":0.1667,"color":"#fff"},{"offset":0.2,"color":"#fff"},{"offset":0.2,"color":"rgba(255,255,255,0)"},{"offset":0.2333,"color":"rgba(255,255,255,0)"},{"offset":0.2333,"color":"#fff"},{"offset":0.2667,"color":"#fff"},{"offset":0.2667,"color":"rgba(255,255,255,0)"},{"offset":0.3,"color":"rgba(255,255,255,0)"},{"offset":0.3,"color":"#fff"},{"offset":0.3333,"color":"#fff"},{"offset":0.3333,"color":"rgba(255,255,255,0)"},{"offset":0.3667,"color":"rgba(255,255,255,0)"},{"offset":0.3667,"color":"#fff"},{"offset":0.4,"color":"#fff"},{"offset":0.4,"color":"rgba(255,255,255,0)"},{"offset":0.4333,"color":"rgba(255,255,255,0)"},{"offset":0.4333,"color":"#fff"},{"offset":0.4667,"color":"#fff"},{"offset":0.4667,"color":"rgba(255,255,255,0)"},{"offset":0.5,"color":"rgba(255,255,255,0)"},{"offset":0.5,"color":"#fff"},{"offset":0.5333,"color":"#fff"},{"offset":0.5333,"color":"rgba(255,255,255,0)"},{"offset":0.5667,"color":"rgba(255,255,255,0)"},{"offset":0.5667,"color":"#fff"},{"offset":0.6,"color":"#fff"},{"offset":0.6,"color":"rgba(255,255,255,0)"},{"offset":0.6333,"color":"rgba(255,255,255,0)"},{"offset":0.6333,"color":"#fff"},{"offset":0.6667,"color":"#fff"},{"offset":0.6667,"color":"rgba(255,255,255,0)"},{"offset":0.7,"color":"rgba(255,255,255,0)"},{"offset":0.7,"color":"#fff"},{"offset":0.7333,"color":"#fff"},{"offset":0.7333,"color":"rgba(255,255,255,0)"},{"offset":0.7667,"color":"rgba(255,255,255,0)"},{"offset":0.7667,"color":"#fff"},{"offset":0.8,"color":"#fff"},{"offset":0.8,"color":"rgba(255,255,255,0)"},{"offset":0.8333,"color":"rgba(255,255,255,0)"},{"offset":0.8333,"color":"#fff"},{"offset":0.8667,"color":"#fff"},{"offset":0.8667,"color":"rgba(255,255,255,0)"},{"offset":0.9,"color":"rgba(255,255,255,0)"},{"offset":0.9,"color":"#fff"},{"offset":0.9333,"color":"#fff"},{"offset":0.9333,"color":"rgba(255,255,255,0)"},{"offset":0.9667,"color":"rgba(255,255,255,0)"},{"offset":0.9667,"color":"#fff"},{"offset":1,"color":"#fff"}]}},
"o7": {"color": {"gradient":"linear","x1":0,"y1":0,"x2":0,"y2":1,"stops":[{"offset":0,"color":"rgba(255,255,255,0)"},{"offset":0.0292,"color":"rgba(255,255,255,0)"},{"offset":0.0292,"color":"#fff"},{"offset":0.0542,"color":"#fff"},{"offset":0.0542,"color":"rgba(255,255,255,0)"},{"offset":0.1125,"color":"rgba(255,255,255,0)"},{"offset":0.1125,"color":"#fff"},{"offset":0.1375,"color":"#fff"},{"offset":0.1375,"color":"rgba(255,255,255,0)"},{"offset":0.1958,"color":"rgba(255,255,255,0)"},{"offset":0.1958,"color":"#fff"},{"offset":0.2208,"color":"#fff"},{"offset":0.2208,"color":"rgba(255,255,255,0)"},{"offset":0.2792,"color":"rgba(255,255,255,0)"},{"offset":0.2792,"color":"#fff"},{"offset":0.3042,"color":"#fff"},{"offset":0.3042,"color":"rgba(255,255,255,0)"},{"offset":0.3625,"color":"rgba(255,255,255,0)"},{"offset":0.3625,"color":"#fff"},{"offset":0.3875,"color":"#fff"},{"offset":0.3875,"color":"rgba(255,255,255,0)"},{"offset":0.4458,"color":"rgba(255,255,255,0)"},{"offset":0.4458,"color":"#fff"},{"offset":0.4708,"color":"#fff"},{"offset":0.4708,"color":"rgba(255,255,255,0)"},{"offset":0.5292,"color":"rgba(255,255,255,0)"},{"offset":0.5292,"color":"#fff"},{"offset":0.5542,"color":"#fff"},{"offset":0.5542,"color":"rgba(255,255,255,0)"},{"offset":0.6125,"color":"rgba(255,255,255,0)"},{"offset":0.6125,"color":"#fff"},{"offset":0.6375,"color":"#fff"},{"offset":0.6375,"color":"rgba(255,255,255,0)"},{"offset":0.6958,"color":"rgba(255,255,255,0)"},{"offset":0.6958,"color":"#fff"},{"offset":0.7208,"color":"#fff"},{"offset":0.7208,"color":"rgba(255,255,255,0)"},{"offset":0.7792,"color":"rgba(255,255,255,0)"},{"offset":0.7792,"color":"#fff"},{"offset":0.8042,"color":"#fff"},{"offset":0.8042,"color":"rgba(255,255,255,0)"},{"offset":0.8625,"color":"rgba(255,255,255,0)"},{"offset":0.8625,"color":"#fff"},{"offset":0.8875,"color":"#fff"},{"offset":0.8875,"color":"rgba(255,255,255,0)"},{"offset":0.9458,"color":"rgba(255,255,255,0)"},{"offset":0.9458,"color":"#fff"},{"offset":0.9708,"color":"#fff"},{"offset":0.9708,"color":"rgba(255,255,255,0)"},{"offset":1,"color":"rgba(255,255,255,0)"}]}}
}
}
}
